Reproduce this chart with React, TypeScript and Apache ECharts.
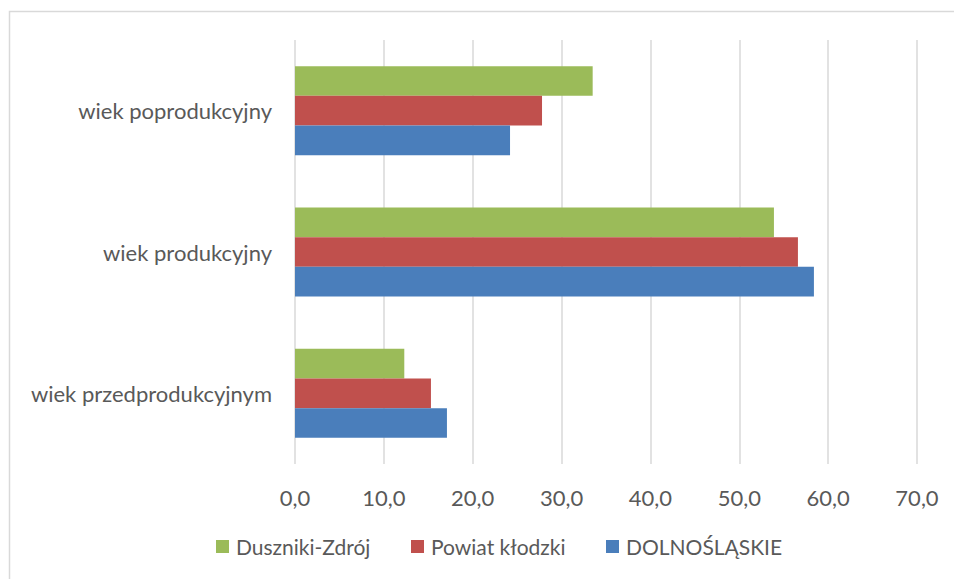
import React, { useEffect, useRef } from "react";
import * as echarts from "echarts";

const categories = ["wiek przedprodukcyjnym", "wiek produkcyjny", "wiek poprodukcyjny"];
const dusznikiZdroj = [12.3, 53.9, 33.5];
const powiatKlodzki = [15.3, 56.6, 27.8];
const dolnoslaskie = [17.1, 58.4, 24.2];
const seriesNames = ["Duszniki-Zdrój", "Powiat kłodzki", "DOLNOŚLĄSKIE"];
const colors = ["#9BBB59", "#C0504D", "#4A7EBB"];

const FONT = "Lato";
const TEXT = "#595959";

export default function App() {
  const ref = useRef<HTMLDivElement>(null);
  useEffect(() => {
    if (!ref.current) return;
    const chart = echarts.init(ref.current, undefined, { renderer: "svg" });
    const values = [dusznikiZdroj, powiatKlodzki, dolnoslaskie];
    const legendPos = [
      { name: "Duszniki-Zdrój", left: 216 },
      { name: "Powiat kłodzki", left: 411 },
      { name: "DOLNOŚLĄSKIE", left: 606 },
    ];
    chart.setOption({
      animation: false,
      textStyle: { fontFamily: FONT },
      graphic: [
        {
          type: "rect",
          shape: { x: 9.5, y: 11.5, width: 1200, height: 1200 },
          style: { fill: "none", stroke: "#D9D9D9", lineWidth: 1.5 },
          silent: true,
        },
      ],
      legend: legendPos.map((l) => ({
        data: [l.name],
        left: l.left,
        top: 536,
        padding: 0,
        itemWidth: 13,
        itemHeight: 13,
        itemGap: 6,
        icon: "rect",
        textStyle: { fontFamily: FONT, fontSize: 21, color: TEXT, padding: [0, 0, 0, 2] },
      })),
      grid: { left: 295, right: 37, top: 40, bottom: 115, containLabel: false },
      xAxis: {
        type: "value",
        min: 0,
        max: 70,
        interval: 10,
        axisLine: { show: false },
        axisTick: { show: false },
        splitLine: { lineStyle: { color: "#D9D9D9", width: 1.5 } },
        axisLabel: {
          margin: 22,
          fontFamily: FONT,
          fontSize: 22,
          color: TEXT,
          formatter: (v: number) => v.toFixed(1).replace(".", ","),
        },
      },
      yAxis: {
        type: "category",
        data: categories,
        axisLine: { show: false },
        axisTick: { show: false },
        axisLabel: { margin: 23, fontFamily: FONT, fontSize: 22, color: TEXT },
      },
      series: seriesNames.map((name, i) => ({
        name,
        type: "bar",
        data: values[i],
        barGap: "0%",
        barCategoryGap: "37%",
        itemStyle: { color: colors[i] },
      })),
    });
    return () => chart.dispose();
  }, []);
  return (
    <div
      ref={ref}
      style={{ position: "absolute", left: 0, top: 0, width: 954, height: 579, background: "#fff" }}
    />
  );
}
